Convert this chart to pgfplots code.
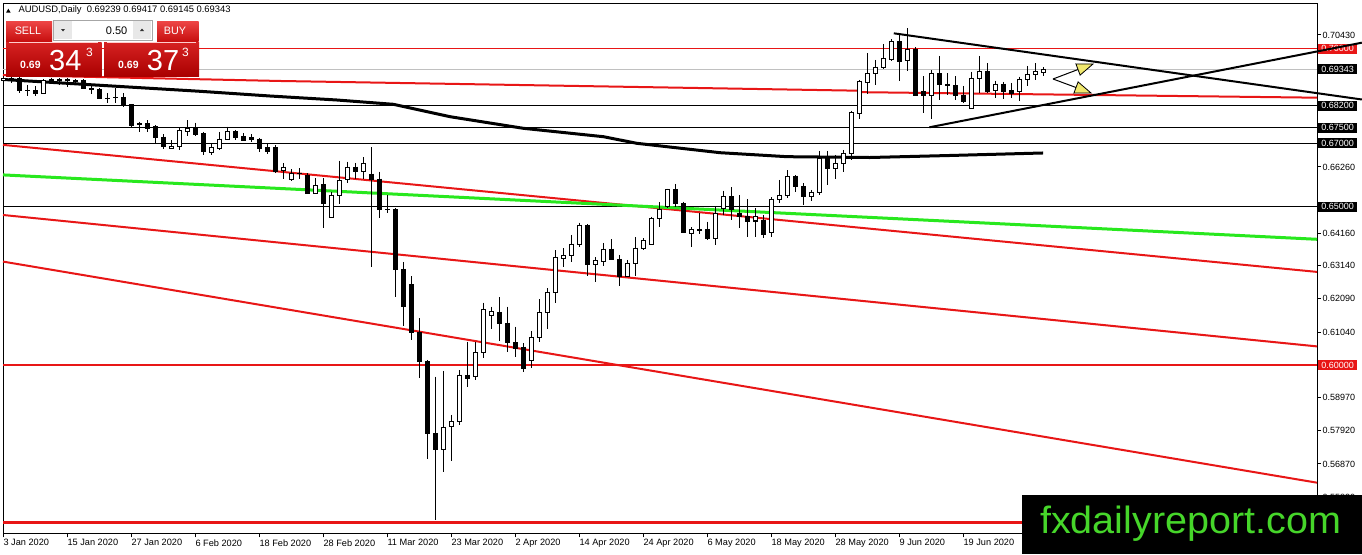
\documentclass[border=0pt]{standalone}
\usepackage{graphicx}
\usepackage{pgfplots}
\pgfplotsset{compat=1.18}
\usepackage{pgfplotstable}
\usepackage{fontspec}
\setmainfont{Liberation Sans}

\definecolor{mtred}{RGB}{232,22,22}
\definecolor{mtgreen}{RGB}{40,232,30}
\definecolor{mtgrey}{RGB}{192,192,192}
\definecolor{btntop}{RGB}{238,70,70}
\definecolor{btnbot}{RGB}{198,14,14}
\definecolor{boxtop}{RGB}{214,34,34}
\definecolor{boxbot}{RGB}{170,0,0}
\definecolor{wmgreen}{RGB}{70,214,42}
\definecolor{arrowyel}{RGB}{240,232,110}

% daily AUDUSD candles, i = bar number from 3 Jan 2020
\pgfplotstableread{
i o h l c
0 0.6898 0.6912 0.6890 0.6906
5 0.6859 0.6903 0.6856 0.6899
7 0.6900 0.6906 0.6885 0.6901
14 0.6845 0.6875 0.6829 0.6846
21 0.6685 0.6711 0.6682 0.6692
22 0.6692 0.6748 0.6679 0.6740
23 0.6737 0.6774 0.6724 0.6748
26 0.6671 0.6701 0.6664 0.6688
27 0.6684 0.6737 0.6679 0.6714
28 0.6714 0.6753 0.6711 0.6737
35 0.6614 0.6637 0.6587 0.6625
36 0.6587 0.6618 0.6582 0.6606
39 0.6543 0.6590 0.6540 0.6567
41 0.6467 0.6548 0.6464 0.6537
42 0.6537 0.6646 0.6509 0.6582
43 0.6585 0.6643 0.6576 0.6625
45 0.6611 0.6657 0.6587 0.6637
55 0.5733 0.5981 0.5663 0.5803
56 0.5805 0.5842 0.5697 0.5821
57 0.5821 0.5984 0.5810 0.5968
59 0.5963 0.6074 0.5953 0.6039
60 0.6039 0.6197 0.6021 0.6174
61 0.6156 0.6184 0.6113 0.6168
66 0.6013 0.6108 0.5989 0.6087
67 0.6087 0.6207 0.6074 0.6166
68 0.6166 0.6242 0.6113 0.6230
69 0.6230 0.6363 0.6195 0.6340
70 0.6337 0.6369 0.6311 0.6345
71 0.6345 0.6411 0.6326 0.6382
72 0.6382 0.6450 0.6374 0.6442
74 0.6318 0.6340 0.6263 0.6330
75 0.6326 0.6386 0.6313 0.6366
78 0.6281 0.6332 0.6277 0.6321
79 0.6321 0.6404 0.6281 0.6369
80 0.6369 0.6401 0.6363 0.6392
81 0.6382 0.6469 0.6379 0.6464
82 0.6464 0.6515 0.6435 0.6492
83 0.6500 0.6557 0.6495 0.6555
86 0.6414 0.6435 0.6372 0.6427
89 0.6400 0.6500 0.6379 0.6479
90 0.6495 0.6551 0.6474 0.6532
94 0.6455 0.6495 0.6405 0.6469
96 0.6418 0.6530 0.6405 0.6524
97 0.6524 0.6585 0.6511 0.6536
98 0.6536 0.6616 0.6527 0.6595
101 0.6534 0.6553 0.6519 0.6546
102 0.6546 0.6677 0.6537 0.6653
104 0.6622 0.6664 0.6587 0.6637
105 0.6637 0.6680 0.6611 0.6669
106 0.6667 0.6804 0.6648 0.6797
107 0.6795 0.6901 0.6776 0.6897
108 0.6892 0.6985 0.6857 0.6920
109 0.6920 0.6964 0.6885 0.6941
110 0.6941 0.7015 0.6935 0.6969
111 0.6966 0.7029 0.6962 0.7022
113 0.6962 0.7064 0.6930 0.6998
116 0.6853 0.6932 0.6776 0.6920
121 0.6811 0.6927 0.6811 0.6906
122 0.6906 0.6977 0.6861 0.6927
124 0.6867 0.6899 0.6843 0.6888
127 0.6864 0.6911 0.6833 0.6903
128 0.6903 0.6945 0.6882 0.6917
129 0.6917 0.6953 0.6901 0.6927
130 0.69239 0.69417 0.69145 0.69343
}\bull

\pgfplotstableread{
i o h l c
1 0.6906 0.6911 0.6892 0.6900
2 0.6906 0.6913 0.6859 0.6869
3 0.6868 0.6885 0.6850 0.6866
4 0.6867 0.6882 0.6850 0.6859
6 0.6902 0.6908 0.6893 0.6898
8 0.6901 0.6907 0.6880 0.6899
9 0.6899 0.6904 0.6890 0.6895
10 0.6899 0.6903 0.6872 0.6875
11 0.6873 0.6885 0.6856 0.6871
12 0.6871 0.6875 0.6840 0.6843
13 0.6843 0.6859 0.6827 0.6842
15 0.6846 0.6859 0.6816 0.6824
16 0.6822 0.6824 0.6753 0.6758
17 0.6762 0.6769 0.6737 0.6761
18 0.6762 0.6774 0.6737 0.6748
19 0.6753 0.6757 0.6703 0.6720
20 0.6720 0.6730 0.6682 0.6692
24 0.6748 0.6766 0.6724 0.6730
25 0.6730 0.6737 0.6664 0.6674
29 0.6737 0.6743 0.6711 0.6720
30 0.6722 0.6732 0.6709 0.6711
31 0.6718 0.6730 0.6706 0.6712
32 0.6714 0.6718 0.6674 0.6685
33 0.6688 0.6701 0.6667 0.6674
34 0.6686 0.6695 0.6607 0.6611
37 0.6606 0.6622 0.6587 0.6605
38 0.6600 0.6606 0.6540 0.6543
40 0.6569 0.6590 0.6434 0.6511
44 0.6625 0.6639 0.6587 0.6611
46 0.6603 0.6688 0.6309 0.6587
47 0.6587 0.6611 0.6464 0.6492
48 0.6492 0.6537 0.6481 0.6490
49 0.6490 0.6495 0.6214 0.6302
50 0.6302 0.6326 0.6123 0.6186
51 0.6253 0.6281 0.6079 0.6102
52 0.6102 0.6147 0.5958 0.6010
53 0.6010 0.6016 0.5702 0.5784
54 0.5784 0.5963 0.5510 0.5733
58 0.5968 0.6074 0.5929 0.5958
62 0.6166 0.6214 0.6077 0.6132
63 0.6132 0.6184 0.6042 0.6070
64 0.6070 0.6121 0.6026 0.6053
65 0.6056 0.6068 0.5979 0.5989
73 0.6442 0.6445 0.6281 0.6316
76 0.6366 0.6398 0.6332 0.6334
77 0.6334 0.6348 0.6250 0.6281
84 0.6555 0.6572 0.6500 0.6511
85 0.6511 0.6516 0.6416 0.6418
87 0.6427 0.6479 0.6414 0.6426
88 0.6429 0.6453 0.6395 0.6400
91 0.6532 0.6562 0.6458 0.6492
92 0.6479 0.6537 0.6432 0.6469
93 0.6469 0.6524 0.6405 0.6453
95 0.6458 0.6474 0.6400 0.6411
99 0.6597 0.6599 0.6548 0.6563
100 0.6563 0.6574 0.6506 0.6534
103 0.6653 0.6677 0.6569 0.6622
112 0.7022 0.7048 0.6898 0.6959
114 0.6998 0.7004 0.6850 0.6853
115 0.6864 0.6913 0.6797 0.6853
117 0.6920 0.6977 0.6837 0.6885
118 0.6888 0.6922 0.6853 0.6883
119 0.6882 0.6913 0.6837 0.6853
120 0.6853 0.6882 0.6829 0.6832
123 0.6927 0.6953 0.6861 0.6864
125 0.6888 0.6895 0.6840 0.6864
126 0.6866 0.6892 0.6843 0.6859
}\bear

\pgfplotsset{
  wick/.style={draw=none, mark=none, forget plot,
    error bars/.cd, y dir=minus, y explicit, error mark=none,
    error bar style={draw=black, line width=1pt}},
  body/.style={draw=none, mark=none, forget plot,
    error bars/.cd, y dir=minus, y explicit, error mark=none,
    error bar style={draw=black, line width=5pt}},
  hollow/.style={draw=none, mark=none, forget plot,
    error bars/.cd, y dir=minus, y explicit, error mark=none,
    error bar style={draw=white, line width=3pt}},
}

\begin{document}
\begin{tikzpicture}
\fill[white] (0,0) rectangle (1362pt,-554pt);
\path[use as bounding box] (0,0) rectangle (1362pt,-554pt);
\begin{axis}[
  at={(3pt,-3pt)}, anchor=north west,
  scale only axis, width=1314pt, height=530.3pt,
  xmin=-0.04, xmax=164.2, ymin=0.54678, ymax=0.71441,
  clip=false, scaled ticks=false,
  axis line style={black, line width=1pt},
  tick style={black, line width=1pt},
  tick align=outside, major tick length=4pt,
  xtick pos=bottom, ytick pos=right, yticklabel pos=right,
  xtick={0,8,...,120},
  xticklabels={3 Jan 2020,15 Jan 2020,27 Jan 2020,6 Feb 2020,18 Feb 2020,28 Feb 2020,11 Mar 2020,23 Mar 2020,2 Apr 2020,14 Apr 2020,24 Apr 2020,6 May 2020,18 May 2020,28 May 2020,9 Jun 2020,19 Jun 2020},
  xticklabel style={anchor=north west, inner sep=0pt, yshift=-2pt,
    font=\fontsize{9.2}{11}\selectfont},
  ytick={0.70430,0.66260,0.64160,0.63140,0.62090,0.61040,0.58970,0.57920,0.56870,0.55820},
  yticklabels={0.70430,0.66260,0.64160,0.63140,0.62090,0.61040,0.58970,0.57920,0.56870,0.55820},
  yticklabel style={anchor=west, inner sep=0pt, xshift=1.5pt,
    font=\fontsize{9}{11}\selectfont},
]
% horizontal levels
\addplot[mtred, line width=1pt] coordinates {(-0.04,0.70000) (164.2,0.70000)};
\addplot[mtgrey, line width=1pt] coordinates {(-0.04,0.69343) (164.2,0.69343)};
\addplot[black, line width=1pt] coordinates {(-0.04,0.68200) (164.2,0.68200)};
\addplot[black, line width=1pt] coordinates {(-0.04,0.67500) (164.2,0.67500)};
\addplot[black, line width=1pt] coordinates {(-0.04,0.67000) (164.2,0.67000)};
\addplot[black, line width=1pt] coordinates {(-0.04,0.65000) (164.2,0.65000)};
\addplot[mtred, line width=2pt] coordinates {(-0.04,0.60000) (164.2,0.60000)};
\addplot[mtred, line width=2.3pt] coordinates {(-0.04,0.55020) (164.2,0.55020)};
% sloping lines
\addplot[mtred, line width=2pt] coordinates {(-0.04,0.69165) (34.6,0.68976) (106.85,0.68669) (107.3,0.68622) (164.2,0.68448)};
\addplot[mtred, line width=2pt] coordinates {(-0.04,0.66956) (164.2,0.62941)};
\addplot[mtred, line width=2pt] coordinates {(-0.04,0.64740) (164.2,0.60586)};
\addplot[mtred, line width=2pt] coordinates {(-0.04,0.63267) (164.2,0.56278)};
\addplot[mtgreen, line width=3pt] coordinates {(-0.04,0.66007) (164.2,0.63972)};
% moving average
\addplot[black, line width=3pt, line join=round] coordinates {
  (0,0.69023) (12.09,0.68840) (24.59,0.68650) (33.34,0.68501) (41.68,0.68375)
  (48.75,0.68239) (55.84,0.67847) (65.0,0.67480) (75.0,0.67215) (79.18,0.67006)
  (89.59,0.66709) (97.96,0.66583) (108.3,0.66557) (118.34,0.66621) (129.96,0.66700)};
% candles
\addplot[wick] table[x=i, y=h, y error minus expr=\thisrow{h}-\thisrow{l}] {\bull};
\addplot[wick] table[x=i, y=h, y error minus expr=\thisrow{h}-\thisrow{l}] {\bear};
\addplot[body] table[x=i, y expr=\thisrow{c}+0.00016, y error minus expr=\thisrow{c}-\thisrow{o}+0.00032] {\bull};
\addplot[hollow] table[x=i, y expr=\thisrow{c}-0.00016, y error minus expr={max(\thisrow{c}-\thisrow{o}-0.00032,0)}] {\bull};
\addplot[body] table[x=i, y expr=\thisrow{o}+0.00016, y error minus expr=\thisrow{o}-\thisrow{c}+0.00032] {\bear};
% price boxes on the scale
\tikzset{pbox/.style={anchor=west, minimum width=39pt, minimum height=10pt, inner sep=0pt,
  xshift=1pt, font=\fontsize{9}{11}\selectfont}}
\node[pbox, fill=mtred, text=white] at (axis cs:164.2,0.70000) {0.70000};
\node[pbox, fill=black, text=white] at (axis cs:164.2,0.69343) {0.69343};
\node[pbox, fill=black, text=white] at (axis cs:164.2,0.68200) {0.68200};
\node[pbox, fill=black, text=white] at (axis cs:164.2,0.67500) {0.67500};
\node[pbox, fill=black, text=white] at (axis cs:164.2,0.67000) {0.67000};
\node[pbox, fill=black, text=white] at (axis cs:164.2,0.65000) {0.65000};
\node[pbox, fill=mtred, text=white] at (axis cs:164.2,0.60000) {0.60000};
% triangle
\addplot[black, line width=2pt] coordinates {(111.3,0.70483) (169.8,0.68391)};
\addplot[black, line width=2pt] coordinates {(115.75,0.67512) (169.8,0.70186)};
\end{axis}

\begin{scope}[x=1pt, y=-1pt]
% header
\fill[black] (6,12.7) -- (8.35,8.7) -- (10.7,12.7) -- cycle;
\node[anchor=west, inner sep=0pt, font=\fontsize{9.4}{11}\selectfont] at (18.3,10.3)
  {AUDUSD,Daily\ \ 0.69239 0.69417 0.69145 0.69343};
% one-click trading panel
\shade[top color=btntop, bottom color=btnbot] (6,21) rectangle (52,41.5);
\node[text=white, font=\fontsize{10.8}{12}\selectfont] at (28,31) {SELL};
\fill[white] (53,20) rectangle (152,40);
\draw[gray!70, line width=0.8pt] (53,20) rectangle (152,40);
\fill[gray!18] (54,21) rectangle (72,39);
\fill[gray!18] (133,21) rectangle (151,39);
\fill[black!80] (61,29) -- (65,29) -- (63,31.5) -- cycle;
\fill[black!80] (140,31) -- (144,31) -- (142,28.5) -- cycle;
\node[anchor=east, inner sep=0pt, font=\fontsize{11}{12}\selectfont] at (127.5,30.5) {0.50};
\shade[top color=btntop, bottom color=btnbot] (157,21) rectangle (198.5,41.5);
\node[text=white, font=\fontsize{10.8}{12}\selectfont] at (175,31) {BUY};
\shade[top color=boxtop, bottom color=boxbot] (6,42) rectangle (101.5,76);
\shade[top color=boxtop, bottom color=boxbot] (104,42) rectangle (199,76);
\draw[white!80!red, line width=0.6pt] (9,42.3) -- (98,42.3);
\draw[white!80!red, line width=0.6pt] (107,42.3) -- (196,42.3);
\node[anchor=base west, inner sep=0pt, text=white, font=\bfseries\fontsize{10.5}{12}\selectfont] at (20,68.5) {0.69};
\node[anchor=base west, inner sep=0pt, text=white, font=\fontsize{29}{30}\selectfont] at (49,70.7) {34};
\node[anchor=base west, inner sep=0pt, text=white, font=\fontsize{12}{13}\selectfont] at (86,56) {3};
\node[anchor=base west, inner sep=0pt, text=white, font=\bfseries\fontsize{10.5}{12}\selectfont] at (118,68.5) {0.69};
\node[anchor=base west, inner sep=0pt, text=white, font=\fontsize{29}{30}\selectfont] at (146.7,70.7) {37};
\node[anchor=base west, inner sep=0pt, text=white, font=\fontsize{12}{13}\selectfont] at (182,56) {3};
% drawn arrows
\draw[black, line width=1pt] (1053,79) -- (1078,69.5);
\filldraw[fill=arrowyel, draw=black, line width=0.8pt] (1093,64) -- (1080.1,75.1) -- (1075.9,63.9) -- cycle;
\draw[black, line width=1pt] (1053,79) -- (1076,87.5);
\filldraw[fill=arrowyel, draw=black, line width=0.8pt] (1091,93) -- (1073.9,93.1) -- (1078.1,81.9) -- cycle;
% watermark
\fill[black] (1022,495) rectangle (1362,554);
\node[anchor=base west, inner sep=0pt, text=wmgreen, font=\fontsize{38}{40}\selectfont] at (1040,533)
  {\scalebox{1.04}[1]{fxdailyreport.com}};
\end{scope}
\end{tikzpicture}
\end{document}
